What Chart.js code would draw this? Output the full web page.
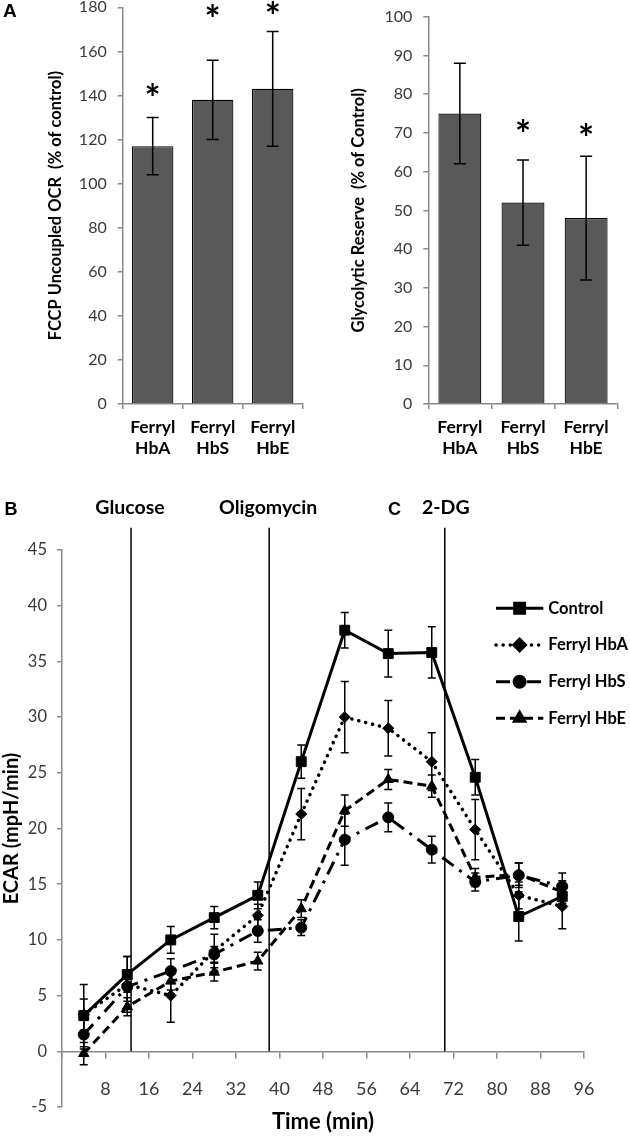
<!DOCTYPE html>
<html>
<head>
<meta charset="utf-8">
<script src="https://cdn.jsdelivr.net/npm/chart.js@4.4.1/dist/chart.umd.min.js"></script>
<style>
  html, body { margin: 0; padding: 0; background: #fff; }
  body { width: 630px; height: 1137px; position: relative; overflow: hidden; }
  canvas { position: absolute; }
</style>
</head>
<body>
<canvas id="ocrChart" width="315" height="470" style="left:0;top:0"></canvas>
<canvas id="glyChart" width="315" height="470" style="left:315px;top:0"></canvas>
<canvas id="ecarChart" width="630" height="652" style="left:0;top:485px"></canvas>
<script>
// Panel A bar charts
const barLabels = [['Ferryl', 'HbA'], ['Ferryl', 'HbS'], ['Ferryl', 'HbE']];
const ocrMean = [117, 138, 143];
const ocrErr = [13, 18, 26];
const ocrStar = [143, 179, 180];
const glyMean = [75, 52, 48];
const glyErr = [13, 11, 16];
const glyStar = [null, 72, 71];

// Panel B time course
const times = [4, 12, 20, 28, 36, 44, 52, 60, 68, 76, 84, 92];
const xTicks = [8, 16, 24, 32, 40, 48, 56, 64, 72, 80, 88, 96];
const control = [3.2, 6.9, 10.0, 12.0, 14.0, 26.0, 37.8, 35.7, 35.8, 24.6, 12.1, 13.9];
const controlErr = [2.8, 1.6, 1.2, 1.0, 1.2, 1.5, 1.6, 2.1, 2.3, 1.6, 2.2, 1.0];
const hbA = [3.3, 6.0, 5.0, 9.0, 12.2, 21.3, 30.0, 29.0, 26.0, 19.9, 14.0, 13.0];
const hbAErr = [1.4, 2.5, 2.4, 1.5, 1.0, 2.3, 3.2, 2.5, 2.6, 2.7, 1.2, 2.0];
const hbS = [1.5, 5.8, 7.2, 8.7, 10.8, 11.1, 19.0, 21.0, 18.1, 15.2, 15.8, 14.8];
const hbSErr = [1.3, 1.3, 1.1, 0.7, 1.0, 0.7, 2.3, 1.3, 1.2, 0.8, 1.1, 1.2];
const hbE = [-0.2, 4.0, 6.3, 7.1, 8.1, 12.8, 21.6, 24.4, 23.8, 15.6, 15.9, 14.3];
const hbEErr = [1.0, 0.8, 0.8, 0.8, 0.8, 0.8, 1.4, 0.9, 1.0, 0.8, 1.0, 1.0];
const injections = ['Glucose', 'Oligomycin', '2-DG'];
const injectionTimes = [12.7, 38.1, 70.4];

const AXIS = '#8a8a8a';
const TICK = '#3a3a3a';

// vertical error bars with caps, read from ds.errors
const errorBars = {
  id: 'errorBars',
  afterDatasetsDraw(chart, args, opts) {
    const ctx = chart.ctx, y = chart.scales.y;
    chart.data.datasets.forEach((ds, i) => {
      if (!ds.errors) return;
      const meta = chart.getDatasetMeta(i);
      ctx.save();
      ctx.strokeStyle = '#000';
      ctx.lineWidth = 1.5;
      ctx.setLineDash([]);
      meta.data.forEach((el, j) => {
        const d = ds.data[j];
        const v = typeof d === 'object' ? d.y : d;
        const e = ds.errors[j];
        const top = y.getPixelForValue(v + e), bot = y.getPixelForValue(v - e);
        const c = opts.cap;
        ctx.beginPath();
        ctx.moveTo(el.x, top); ctx.lineTo(el.x, bot);
        ctx.moveTo(el.x - c, top); ctx.lineTo(el.x + c, top);
        ctx.moveTo(el.x - c, bot); ctx.lineTo(el.x + c, bot);
        ctx.stroke();
      });
      ctx.restore();
    });
  }
};

// significance asterisks + panel letter
const barNotes = {
  id: 'barNotes',
  afterDraw(chart, args, opts) {
    const ctx = chart.ctx, y = chart.scales.y;
    const ds = chart.data.datasets[0];
    const meta = chart.getDatasetMeta(0);
    ctx.save();
    ctx.fillStyle = '#000';
    ctx.textAlign = 'center';
    ctx.textBaseline = 'alphabetic';
    ctx.font = 'bold 38px Lato';
    const m = ctx.measureText('*');
    const shift = (m.actualBoundingBoxAscent - m.actualBoundingBoxDescent) / 2;
    ds.stars.forEach((s, j) => {
      if (s == null) return;
      ctx.fillText('*', meta.data[j].x, y.getPixelForValue(s) + shift);
    });
    if (opts.letter) {
      ctx.font = 'bold 19px "Liberation Sans"';
      ctx.textAlign = 'left';
      ctx.textBaseline = 'middle';
      ctx.fillText(opts.letter, 3, 12);
    }
    ctx.restore();
  }
};

function barChart(id, means, errs, stars, yMax, step, title, g) {
  return new Chart(document.getElementById(id), {
    type: 'bar',
    data: {
      labels: barLabels,
      datasets: [{
        data: means,
        errors: errs,
        stars: stars,
        backgroundColor: '#595959',
        borderColor: '#000',
        borderWidth: 1.2,
        categoryPercentage: 1,
        barPercentage: g.bar
      }]
    },
    options: {
      responsive: false,
      animation: false,
      layout: { padding: { left: 0, top: g.top, right: g.right, bottom: 0 } },
      plugins: {
        legend: { display: false },
        tooltip: { enabled: false },
        errorBars: { cap: 6 },
        barNotes: { letter: g.letter }
      },
      scales: {
        x: {
          grid: { drawOnChartArea: false, color: AXIS, tickLength: 5, lineWidth: 1.5 },
          border: { color: AXIS, width: 1.5 },
          ticks: { color: '#000', padding: 7, font: { family: 'Lato', size: 17.5, weight: 'bold', lineHeight: 1.25 } },
          afterFit(s) { s.height = 66; s.paddingLeft = 0; s.paddingRight = 0; }
        },
        y: {
          min: 0, max: yMax,
          ticks: { stepSize: step, color: TICK, padding: 11, font: { family: 'Lato', size: 16 } },
          grid: { drawOnChartArea: false, color: AXIS, tickLength: 5, lineWidth: 1.5 },
          border: { color: AXIS, width: 1.5 },
          title: {
            display: true, text: title, color: '#000',
            font: { family: 'Lato', size: 16.5, weight: 'bold', lineHeight: 1.2 },
            padding: { top: g.titleX - 10, bottom: 0 }
          },
          afterFit(s) { s.width = g.axisX; s.paddingTop = 0; s.paddingBottom = 0; }
        }
      }
    },
    plugins: [errorBars, barNotes]
  });
}

barChart('ocrChart', ocrMean, ocrErr, ocrStar, 180, 20, 'FCCP Uncoupled OCR  (% of control)',
  { top: 7.3, right: 12.3, axisX: 122.7, titleX: 56, bar: 0.69, letter: 'A' });
barChart('glyChart', glyMean, glyErr, glyStar, 100, 10, 'Glycolytic Reserve  (% of Control)',
  { top: 16.7, right: 12.3, axisX: 113.3, titleX: 44, bar: 0.68, letter: null });

// annotations + legend for the ECAR panel
const ecarNotes = {
  id: 'ecarNotes',
  afterDraw(chart) {
    const ctx = chart.ctx, x = chart.scales.x;
    ctx.save();
    ctx.fillStyle = '#000';
    ctx.textAlign = 'center';
    ctx.textBaseline = 'middle';
    ctx.font = 'bold 19.5px Lato';
    injections.forEach((name, i) => {
      ctx.fillText(name, x.getPixelForValue(injectionTimes[i]) - (i === 2 ? -1 : 1), 23);
    });
    ctx.font = 'bold 18px "Liberation Sans"';
    ctx.fillText('B', 11, 25);
    ctx.fillText('C', 394.6, 25);

    // legend
    const rows = [123.3, 160, 196.7, 233.3];
    chart.data.datasets.forEach((ds, i) => {
      if (!ds.errors) return;
      const yy = rows[i];
      ctx.save();
      ctx.strokeStyle = '#000';
      ctx.lineWidth = ds.borderWidth;
      ctx.lineCap = ds.borderCapStyle || 'butt';
      ctx.setLineDash(ds.borderDash || []);
      ctx.beginPath();
      ctx.moveTo(496, yy); ctx.lineTo(543.3, yy);
      ctx.stroke();
      ctx.setLineDash([]);
      ctx.fillStyle = '#000';
      Chart.helpers.drawPoint(ctx, {
        pointStyle: ds.pointStyle, radius: ds.pointRadius, rotation: 0, borderWidth: 1
      }, 519.6, yy);
      ctx.restore();
      ctx.textAlign = 'left';
      ctx.font = 'bold 16.5px Lato';
      ctx.fillText(ds.label, 548.3, yy);
    });
    ctx.restore();
  }
};

function series(label, values, errs, style) {
  return Object.assign({
    label: label,
    data: times.map((t, i) => ({ x: t, y: values[i] })),
    errors: errs,
    borderColor: '#000',
    backgroundColor: '#000',
    pointBackgroundColor: '#000',
    pointBorderColor: '#000',
    pointBorderWidth: 1,
    tension: 0,
    fill: false
  }, style);
}

function injectionLine(t) {
  return {
    data: [{ x: t, y: 0 }, { x: t, y: 47 }],
    borderColor: '#000',
    borderWidth: 1.5,
    pointRadius: 0,
    clip: false
  };
}

new Chart(document.getElementById('ecarChart'), {
  type: 'line',
  data: {
    datasets: [
      series('Control', control, controlErr, { borderWidth: 3, pointStyle: 'rect', pointRadius: 7 }),
      series('Ferryl HbA', hbA, hbAErr, { borderWidth: 3.5, borderDash: [0.1, 7], borderCapStyle: 'round', pointStyle: 'rectRot', pointRadius: 5.5 }),
      series('Ferryl HbS', hbS, hbSErr, { borderWidth: 3, borderDash: [14, 7, 3, 7], pointStyle: 'circle', pointRadius: 5.5 }),
      series('Ferryl HbE', hbE, hbEErr, { borderWidth: 3, borderDash: [9, 5], pointStyle: 'triangle', pointRadius: 6 })
    ].concat(injectionTimes.map(injectionLine))
  },
  options: {
    responsive: false,
    animation: false,
    layout: { padding: { left: 0, top: 65, right: 46, bottom: 0 } },
    plugins: {
      legend: { display: false },
      tooltip: { enabled: false },
      errorBars: { cap: 4 },
      title: {
        display: true, position: 'bottom', fullSize: false, text: 'Time (min)', color: '#000',
        font: { family: 'Lato', size: 22, weight: 'bold', lineHeight: 1.2 },
        padding: { top: 2, bottom: 1.6 }
      }
    },
    scales: {
      x: {
        type: 'linear',
        position: { y: 0 },
        min: 0, max: 96,
        afterBuildTicks(s) { s.ticks = [0].concat(xTicks).map(v => ({ value: v })); },
        ticks: {
          color: TICK, padding: 21, maxRotation: 0, autoSkip: false,
          font: { family: 'Lato', size: 18 },
          callback: v => (v === 0 ? '' : v)
        },
        grid: { drawOnChartArea: false, color: AXIS, tickLength: 6, lineWidth: 1.5 },
        border: { color: AXIS, width: 1.5 },
        afterFit(s) { s.paddingLeft = 0; s.paddingRight = 0; }
      },
      y: {
        min: -5, max: 45,
        ticks: { stepSize: 5, color: TICK, padding: 10, font: { family: 'Lato', size: 16.5 } },
        grid: { drawOnChartArea: false, color: AXIS, tickLength: 5, lineWidth: 1.5 },
        border: { color: AXIS, width: 1.5 },
        title: {
          display: true, text: 'ECAR (mpH/min)', color: '#000',
          font: { family: 'Lato', size: 20, weight: 'bold', lineHeight: 1.2 },
          padding: { top: 0, bottom: 0 }
        },
        afterFit(s) { s.width = 62; s.paddingTop = 0; s.paddingBottom = 0; }
      }
    }
  },
  plugins: [errorBars, ecarNotes]
});
</script>
</body>
</html>
